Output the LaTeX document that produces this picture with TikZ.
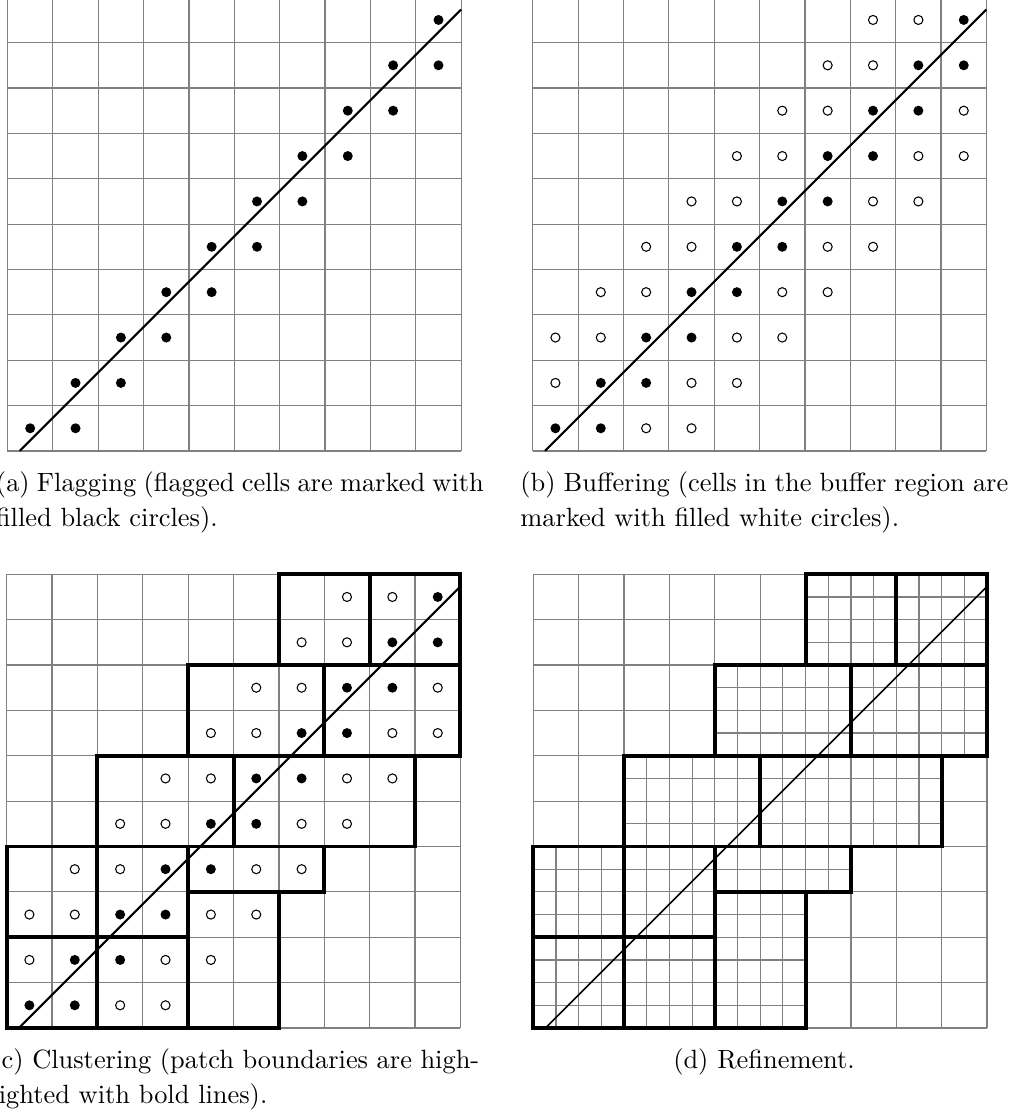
\documentclass[tikz,border=0pt]{standalone}
\usepackage{amsmath,amsfonts}
\usetikzlibrary{arrows,shapes}
\tikzstyle{cellgrid}=[draw=black!50,line width=0.45pt,step=1]
\tikzstyle{finegrid}=[draw=black!50,line width=0.45pt,step=0.5]
\tikzstyle{patchbox}=[draw=black,line width=1.5pt]
\tikzstyle{front}=[draw=black,line width=0.8pt]
\tikzstyle{flagdot}=[fill=black]
\tikzstyle{bufdot}=[draw=black,fill=white,line width=0.4pt]
\tikzstyle{subcap}=[inner sep=0pt,text width=184.8pt,align=justify,font={\fontsize{10}{13.3}\selectfont}]

% flagged cells: column i, rows i and i-1
\newcommand{\flagcells}{%
  \fill[flagdot] (0.5,0.5) circle (0.11);
  \foreach \i in {1,...,9} {
    \fill[flagdot] (\i+0.5,\i+0.5) circle (0.11);
    \fill[flagdot] (\i+0.5,\i-0.5) circle (0.11);
  }}
% buffer cells: row r, columns r-2, r-1, r+2, r+3
\newcommand{\buffercells}{%
  \foreach \r in {0,...,9} {
    \foreach \d in {-2,-1,2,3} {
      \pgfmathtruncatemacro{\col}{\r+\d}
      \ifnum\col>-1 \ifnum\col<10
        \draw[bufdot] (\col+0.5,\r+0.5) circle (0.1);
      \fi\fi
    }
  }}
% patch boxes: x0/y0/x1/y1
\newcommand{\patchlist}{6/8/8/10, 8/8/10/10, 4/6/7/8, 7/6/10/8,
  2/4/5/6, 5/4/9/6, 0/2/2/4, 2/2/4/4, 4/3/7/4,
  4/0/6/3, 0/0/2/2, 2/0/4/2}

\begin{document}
\begin{tikzpicture}[x=0.6041cm,y=0.6041cm]
\useasboundingbox (0,0) rectangle (22.37,24.62);

% (a) flagging
\begin{scope}[shift={(0.165,14.68)}]
\draw[cellgrid] (0,0) grid (10,10);
\coordinate (a0) at (0.27,0);
\coordinate (a1) at (10,9.73);
\draw[front] (a0)--(a1);
\flagcells
\end{scope}

% (b) buffering
\begin{scope}[shift={(11.742,14.68)}]
\draw[cellgrid] (0,0) grid (10,10);
\coordinate (b0) at (0.27,0);
\coordinate (b1) at (10,9.73);
\draw[front] (b0)--(b1);
\flagcells
\buffercells
\end{scope}

% (c) clustering
\begin{scope}[shift={(0.148,1.962)}]
\draw[cellgrid] (0,0) grid (10,10);
\foreach \xa/\ya/\xb/\yb in \patchlist {
  \draw[patchbox] (\xa,\ya) rectangle (\xb,\yb);
}
\coordinate (c0) at (0.27,0);
\coordinate (c1) at (10,9.73);
\draw[front] (c0)--(c1);
\flagcells
\buffercells
\end{scope}

% (d) refinement
\begin{scope}[shift={(11.755,1.962)}]
\draw[cellgrid] (0,0) grid (10,10);
\foreach \xa/\ya/\xb/\yb in \patchlist {
  \draw[finegrid] (\xa,\ya) grid (\xb,\yb);
}
\foreach \xa/\ya/\xb/\yb in \patchlist {
  \draw[patchbox] (\xa,\ya) rectangle (\xb,\yb);
}
\coordinate (d0) at (0.27,0);
\coordinate (d1) at (10,9.73);
\draw[front,line width=0.6pt] (d0)--(d1);
\end{scope}

\node[subcap,anchor=base west] (capa) at (-0.1,13.78)
  {(a) Flagging (flagged cells are marked with\linebreak filled black circles).};
\node[subcap,anchor=base west] (capb) at (11.46,13.78)
  {(b) Buffering (cells in the buffer region are\linebreak marked with filled white circles).};
\node[subcap,anchor=base west] (capc) at (-0.2,1.08)
  {(c) Clustering (patch boundaries are high-\linebreak lighted with bold lines).};
\node[inner sep=0pt,anchor=base,font={\fontsize{10}{13.3}\selectfont}] (capd) at (16.84,1.06)
  {(d) Refinement.};
\end{tikzpicture}
\end{document}
